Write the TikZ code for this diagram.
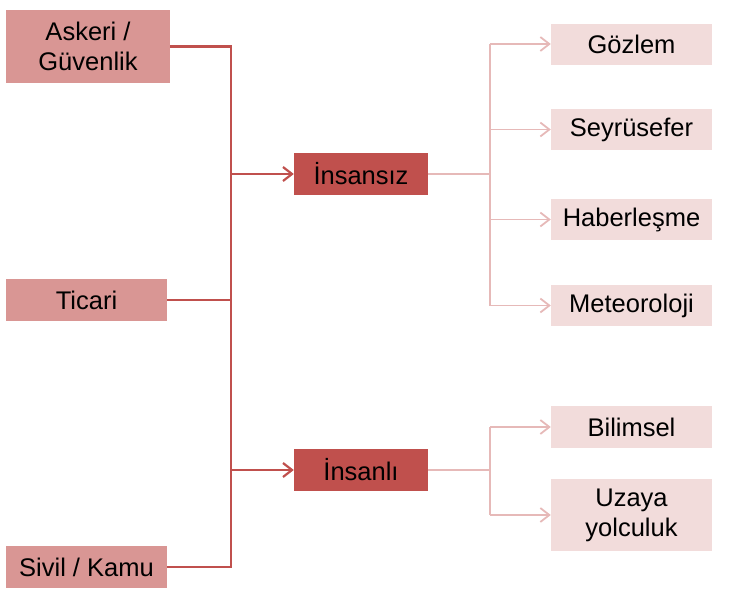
\documentclass[tikz,border=0pt]{standalone}
\usepackage{fontspec}
\setmainfont{Liberation Sans}
\usetikzlibrary{arrows.meta}
\definecolor{srcbox}{HTML}{D99694}
\definecolor{midbox}{HTML}{C0504D}
\definecolor{leafbox}{HTML}{F2DCDB}
\definecolor{darkline}{HTML}{C0504D}
\definecolor{lightline}{HTML}{E6B9B8}
\begin{document}
\begin{tikzpicture}[x=1pt,y=-1pt,
  base/.style={inner sep=0pt, align=center, font=\fontsize{25.5}{30}\selectfont, text=black},
  srcnode/.style={base, fill=srcbox, minimum width=161pt, minimum height=42pt},
  midnode/.style={base, fill=midbox, minimum width=134pt, minimum height=42pt},
  leafnode/.style={base, fill=leafbox, minimum width=161pt, minimum height=41pt},
  darkconn/.style={draw=darkline, line width=2.2pt},
  lightconn/.style={draw=lightline, line width=1.8pt},
  darkarrow/.style={darkconn, -{Straight Barb[length=9pt,width=14pt,line width=2.2pt]}},
  lightarrow/.style={lightconn, -{Straight Barb[length=9pt,width=14pt,line width=1.8pt]}}]
\useasboundingbox (0,0) rectangle (732,598);
% left column
\node[srcnode, minimum width=164pt, minimum height=73pt] (ask) at (88,46.5) {Askeri /\\Güvenlik};
\node[srcnode] (tic) at (86.5,300) {Ticari};
\node[srcnode] (siv) at (86.5,567) {Sivil / Kamu};
% middle
\node[midnode] (ins) at (361,174) {İnsansız};
\node[midnode] (inl) at (361,470) {İnsanlı};
% right column
\node[leafnode] (goz) at (631.5,44) {Gözlem};
\node[leafnode] (sey) at (631.5,129.5) {Seyrüsefer};
\node[leafnode] (hab) at (631.5,219.5) {Haberleşme};
\node[leafnode] (met) at (631.5,305.5) {Meteoroloji};
\node[leafnode, minimum height=42pt] (bil) at (631.5,427) {Bilimsel};
\node[leafnode, minimum height=72pt] (uza) at (631.5,515) {Uzaya\\yolculuk};
% left trunk
\coordinate (ltop) at (231,46.5);
\coordinate (lbot) at (231,567);
\coordinate (ltic) at (231,300);
\coordinate (lins) at (231,174);
\coordinate (linl) at (231,470);
\draw[darkconn] (ask.east) -- (ltop) -- (lbot) -- (siv.east);
\draw[darkconn] (tic.east) -- (ltic);
\draw[darkarrow] (lins) -- (ins.west);
\draw[darkarrow] (linl) -- (inl.west);
% right trunk upper
\coordinate (rins) at (490,174);
\coordinate (rgoz) at (490,44);
\coordinate (rsey) at (490,129.5);
\coordinate (rhab) at (490,219.5);
\coordinate (rmet) at (490,305.5);
\draw[lightconn] (ins.east) -- (rins);
\draw[lightconn] (rgoz) -- (rmet);
\draw[lightarrow] (rgoz) -- (goz.west);
\draw[lightarrow] (rsey) -- (sey.west);
\draw[lightarrow] (rhab) -- (hab.west);
\draw[lightarrow] (rmet) -- (met.west);
% right trunk lower
\coordinate (rinl) at (490,470);
\coordinate (rbil) at (490,427);
\coordinate (ruza) at (490,515);
\draw[lightconn] (inl.east) -- (rinl);
\draw[lightconn] (rbil) -- (ruza);
\draw[lightarrow] (rbil) -- (bil.west);
\draw[lightarrow] (ruza) -- (uza.west);
\end{tikzpicture}
\end{document}
